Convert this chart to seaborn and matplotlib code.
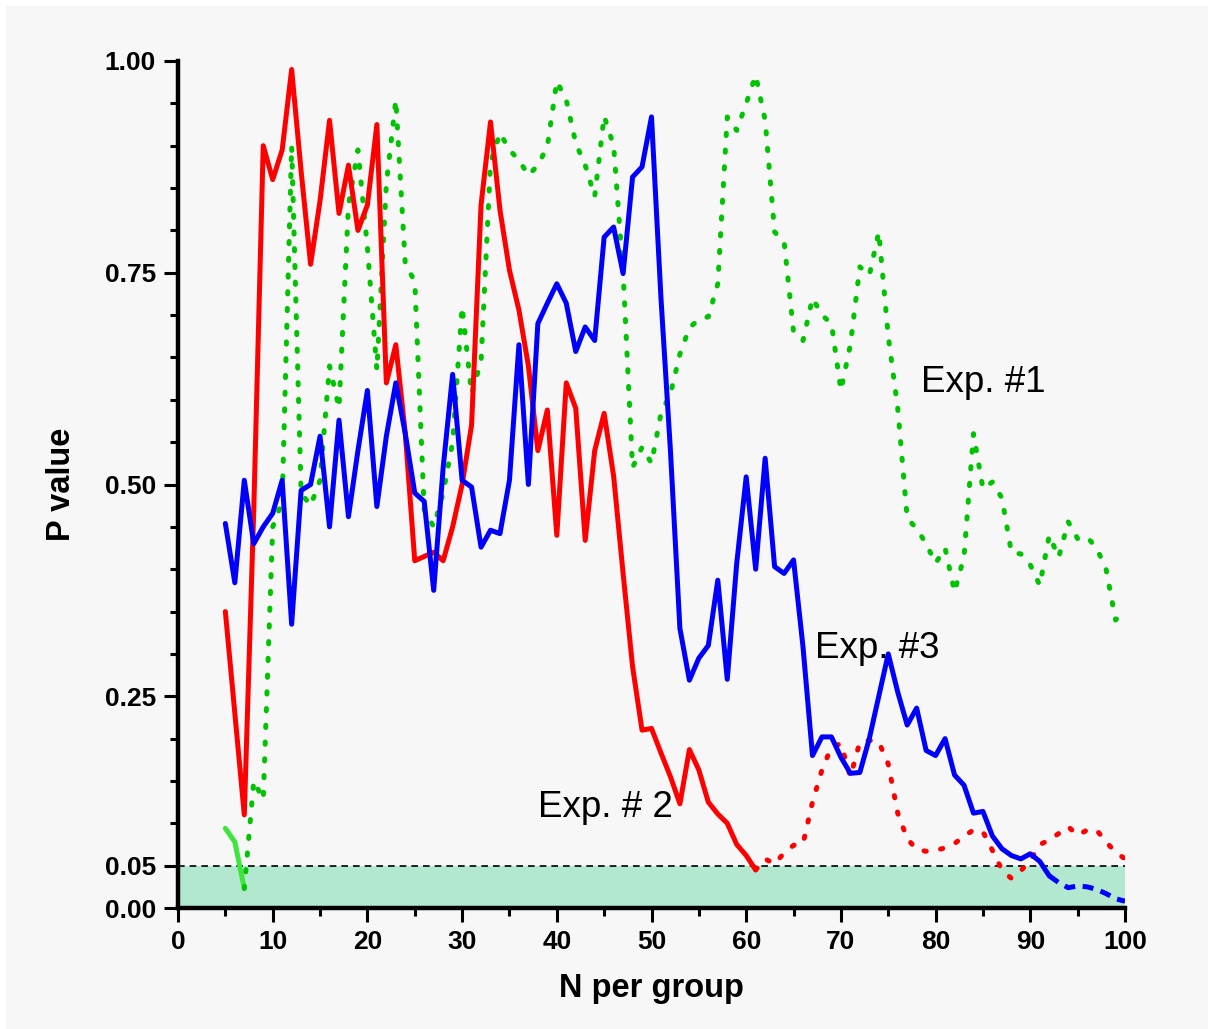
import matplotlib
matplotlib.use("Agg")
import matplotlib.pyplot as plt
from matplotlib.patches import Rectangle
from matplotlib.ticker import MultipleLocator, FormatStrFormatter, FixedLocator
import numpy as np
import pandas as pd
import seaborn as sns

# sample size per group, 5..100
n_per_group = list(range(5, 101))

exp1_p = [0.094, 0.078, 0.023, 0.15, 0.128, 0.45, 0.48, 0.90, 0.49, 0.475,
          0.505, 0.64, 0.59, 0.83, 0.895, 0.78, 0.635, 0.855, 0.954, 0.76,
          0.74, 0.47, 0.45, 0.49, 0.55, 0.71, 0.607, 0.645, 0.88, 0.915,
          0.895, 0.883, 0.865, 0.877, 0.899, 0.976, 0.954, 0.903, 0.877, 0.84,
          0.935, 0.90, 0.75, 0.52, 0.544, 0.525, 0.584, 0.607, 0.654, 0.685,
          0.695, 0.698, 0.737, 0.934, 0.918, 0.95, 0.983, 0.93, 0.798, 0.787,
          0.68, 0.67, 0.72, 0.70, 0.69, 0.611, 0.665, 0.757, 0.747, 0.798,
          0.675, 0.59, 0.46, 0.448, 0.43, 0.407, 0.425, 0.373, 0.415, 0.56,
          0.495, 0.503, 0.484, 0.42, 0.418, 0.405, 0.381, 0.44, 0.414, 0.456,
          0.436, 0.438, 0.425, 0.40, 0.34, 0.352]

exp2_p = [0.35, 0.23, 0.11, 0.47, 0.90, 0.86, 0.895, 0.99, 0.87, 0.76,
          0.835, 0.93, 0.82, 0.877, 0.80, 0.83, 0.925, 0.62, 0.665, 0.56,
          0.41, 0.415, 0.42, 0.41, 0.45, 0.50, 0.57, 0.83, 0.928, 0.824,
          0.753, 0.706, 0.64, 0.54, 0.588, 0.44, 0.62, 0.59, 0.434, 0.54,
          0.584, 0.51, 0.395, 0.285, 0.21, 0.212, 0.183, 0.155, 0.123, 0.187,
          0.163, 0.125, 0.111, 0.10, 0.075, 0.062, 0.045, 0.058, 0.052, 0.065,
          0.074, 0.076, 0.125, 0.163, 0.19, 0.194, 0.155, 0.196, 0.198, 0.196,
          0.17, 0.112, 0.082, 0.069, 0.067, 0.068, 0.071, 0.076, 0.085, 0.092,
          0.09, 0.068, 0.045, 0.035, 0.044, 0.056, 0.075, 0.08, 0.088, 0.096,
          0.086, 0.092, 0.092, 0.078, 0.066, 0.058]

exp3_p = [0.454, 0.384, 0.505, 0.43, 0.45, 0.466, 0.505, 0.335, 0.493, 0.50,
          0.557, 0.45, 0.576, 0.462, 0.54, 0.611, 0.474, 0.557, 0.62, 0.56,
          0.49, 0.48, 0.375, 0.52, 0.63, 0.505, 0.497, 0.426, 0.446, 0.442,
          0.505, 0.665, 0.50, 0.69, 0.714, 0.737, 0.714, 0.657, 0.686, 0.67,
          0.792, 0.804, 0.749, 0.863, 0.875, 0.934, 0.72, 0.54, 0.33, 0.269,
          0.295, 0.31, 0.387, 0.27, 0.407, 0.509, 0.40, 0.531, 0.403, 0.395,
          0.411, 0.308, 0.18, 0.202, 0.202, 0.178, 0.159, 0.16, 0.20, 0.25,
          0.30, 0.255, 0.216, 0.236, 0.186, 0.18, 0.20, 0.157, 0.145, 0.112,
          0.114, 0.085, 0.07, 0.062, 0.058, 0.064, 0.055, 0.038, 0.03, 0.024,
          0.026, 0.025, 0.022, 0.017, 0.011, 0.008]

alpha = 0.05
y_major = [0.0, 0.05, 0.25, 0.50, 0.75, 1.00]

sns.set_theme(style="ticks")
plt.rcParams["font.family"] = ["Liberation Sans", "DejaVu Sans"]
for key in ["text.color", "axes.labelcolor", "xtick.color", "ytick.color"]:
    plt.rcParams[key] = "black"

bg = "#f7f7f7"
fig = plt.figure(figsize=(12.14, 10.29), dpi=100, facecolor="white")
fig.patches.append(Rectangle((6 / 1214, 0), 1 - 12 / 1214, 1 - 6 / 1029,
                             transform=fig.transFigure, facecolor=bg,
                             edgecolor="none", zorder=-10))
ax = fig.add_axes([178 / 1214, 121 / 1029, 947 / 1214, 847 / 1029])
ax.set_facecolor(bg)

# significance band
ax.axhspan(0, alpha, color="#b2e8d0", lw=0, zorder=0)
ax.axhline(alpha, color="black", lw=1.2, ls=(0, (4, 3)), zorder=1)

LW = 3.6
dots = (0, (0.45, 2.9))
dashes = (0, (2.2, 1.5))


def plot_exp(p_vals, solid_color, after_color, after_style):
    df = pd.DataFrame({"n": n_per_group, "p": p_vals})
    # solid until the first p below alpha, then a broken line
    stop = int(np.argmax(df["p"].values < alpha))
    first = df.iloc[:stop + 1]
    rest = df.iloc[stop:]
    sns.lineplot(data=first, x="n", y="p", ax=ax, color=solid_color,
                 linewidth=LW, zorder=3)
    kw = dict(dash_capstyle="round") if after_style is dots else {}
    sns.lineplot(data=rest, x="n", y="p", ax=ax, color=after_color,
                 linewidth=LW, linestyle=after_style, zorder=3, **kw)


plot_exp(exp1_p, "#3ce63c", "#00c400", dots)
plot_exp(exp2_p, "#ff0000", "#ff0000", dots)
plot_exp(exp3_p, "#0000ff", "#0000ff", dashes)

ax.text(78.5, 0.609, "Exp. #1", fontsize=26.5, va="baseline", ha="left")
ax.text(67.3, 0.295, "Exp. #3", fontsize=26.5, va="baseline", ha="left")
ax.text(38.0, 0.107, "Exp. # 2", fontsize=26.5, va="baseline", ha="left")

ax.set_xlim(0, 100)
ax.set_ylim(0, 1)
ax.xaxis.set_major_locator(MultipleLocator(10))
ax.xaxis.set_minor_locator(MultipleLocator(5))
ax.yaxis.set_major_locator(FixedLocator(y_major))
ax.yaxis.set_minor_locator(MultipleLocator(0.05))
ax.yaxis.set_major_formatter(FormatStrFormatter("%.2f"))

for side in ["top", "right"]:
    ax.spines[side].set_visible(False)
for side in ["left", "bottom"]:
    ax.spines[side].set_linewidth(3.2)
    ax.spines[side].set_color("black")

ax.tick_params(which="major", length=10, width=2.2, color="black", pad=6,
               direction="out", labelsize=19, labelcolor="black")
ax.tick_params(which="minor", length=6, width=2.2, color="black",
               direction="out")
for lab in ax.get_xticklabels() + ax.get_yticklabels():
    lab.set_fontweight("bold")

ax.set_xlabel("N per group", fontsize=23.5, fontweight="bold", color="black")
ax.set_ylabel("P value", fontsize=23.5, fontweight="bold", color="black")
ax.xaxis.set_label_coords(0.5, -0.077)
ax.yaxis.set_label_coords(-0.107, 0.5)

fig.savefig("out.png", dpi=100, facecolor="white")
